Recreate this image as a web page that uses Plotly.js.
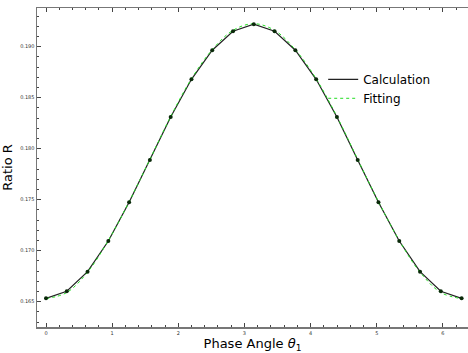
<!DOCTYPE html>
<html>
<head>
<meta charset="utf-8">
<script src="https://cdn.plot.ly/plotly-3.0.1.min.js"></script>
<style>html,body{margin:0;padding:0;background:#fff;}#chart{width:468px;height:353px;}</style>
</head>
<body>
<div id="chart"></div>
<script>
// Phase angle theta_1 (k*pi/10, k = 0..20)
const theta = [0.0000, 0.3142, 0.6283, 0.9425, 1.2566, 1.5708, 1.8850, 2.1991, 2.5133, 2.8274, 3.1416,
               3.4558, 3.7699, 4.0841, 4.3982, 4.7124, 5.0265, 5.3407, 5.6549, 5.9690, 6.2832];
const calcR = [0.16533, 0.16602, 0.16794, 0.17095, 0.17475, 0.17889, 0.18311, 0.18680, 0.18965, 0.19151, 0.19220,
               0.19151, 0.18965, 0.18680, 0.18311, 0.17889, 0.17475, 0.17095, 0.16794, 0.16602, 0.16533];
const fitR  = [0.16530, 0.16590, 0.16790, 0.17100, 0.17480, 0.17895, 0.18315, 0.18685, 0.18970, 0.19160, 0.19225,
               0.19160, 0.18970, 0.18685, 0.18315, 0.17895, 0.17480, 0.17100, 0.16790, 0.16590, 0.16530];
const xTicks = [0, 1, 2, 3, 4, 5, 6];
const yTicks = [0.165, 0.170, 0.175, 0.180, 0.185, 0.190];

const traces = [
  {x: theta, y: calcR, name: 'Calculation', type: 'scatter', mode: 'lines',
   line: {color: '#222222', width: 1.2}},
  {x: theta, y: fitR, name: 'Fitting', type: 'scatter', mode: 'lines',
   line: {color: '#22dd22', width: 1, dash: 'dot', shape: 'spline'}},
  {x: theta, y: calcR, name: 'Calculation points', type: 'scatter', mode: 'markers', showlegend: false,
   marker: {color: '#0a2a0a', size: 4}}
];

const axisCommon = {
  showline: true, linecolor: '#777', linewidth: 1.5,
  ticks: 'inside', ticklen: 4, tickwidth: 1, tickcolor: '#444',
  showgrid: false, zeroline: false,
  tickfont: {family: 'DejaVu Sans', size: 5, color: '#333'}
};

const layout = {
  width: 468, height: 353,
  margin: {l: 37, r: 0, t: 8, b: 26},
  paper_bgcolor: '#fff', plot_bgcolor: '#fff',
  showlegend: true,
  legend: {x: 0.664, y: 0.822, xanchor: 'left', yanchor: 'top', bgcolor: 'rgba(0,0,0,0)',
           font: {family: 'DejaVu Sans', size: 12, color: '#000'}, itemwidth: 30, tracegroupgap: 0},
  xaxis: Object.assign({}, axisCommon, {
    mirror: 'ticks',
    range: [-0.136, 6.38], tickmode: 'array', tickvals: xTicks, ticktext: xTicks.map(String),
    minor: {dtick: 0.2, ticks: 'inside', ticklen: 2, tickcolor: '#444'},
    title: {text: 'Phase Angle <i>θ</i><sub>1</sub>', font: {family: 'DejaVu Sans', size: 13, color: '#000'}, standoff: 7}
  }),
  yaxis: Object.assign({}, axisCommon, {
    mirror: false,
    range: [0.16252, 0.19379], tickmode: 'array', tickvals: yTicks, ticktext: yTicks.map(v => v.toFixed(3)),
    minor: {dtick: 0.001, ticks: 'inside', ticklen: 2, tickcolor: '#444'},
    title: {text: 'Ratio R', font: {family: 'DejaVu Sans', size: 13, color: '#000'}, standoff: 4}
  })
};

Plotly.newPlot('chart', traces, layout, {displayModeBar: false, staticPlot: true});
</script>
</body>
</html>
